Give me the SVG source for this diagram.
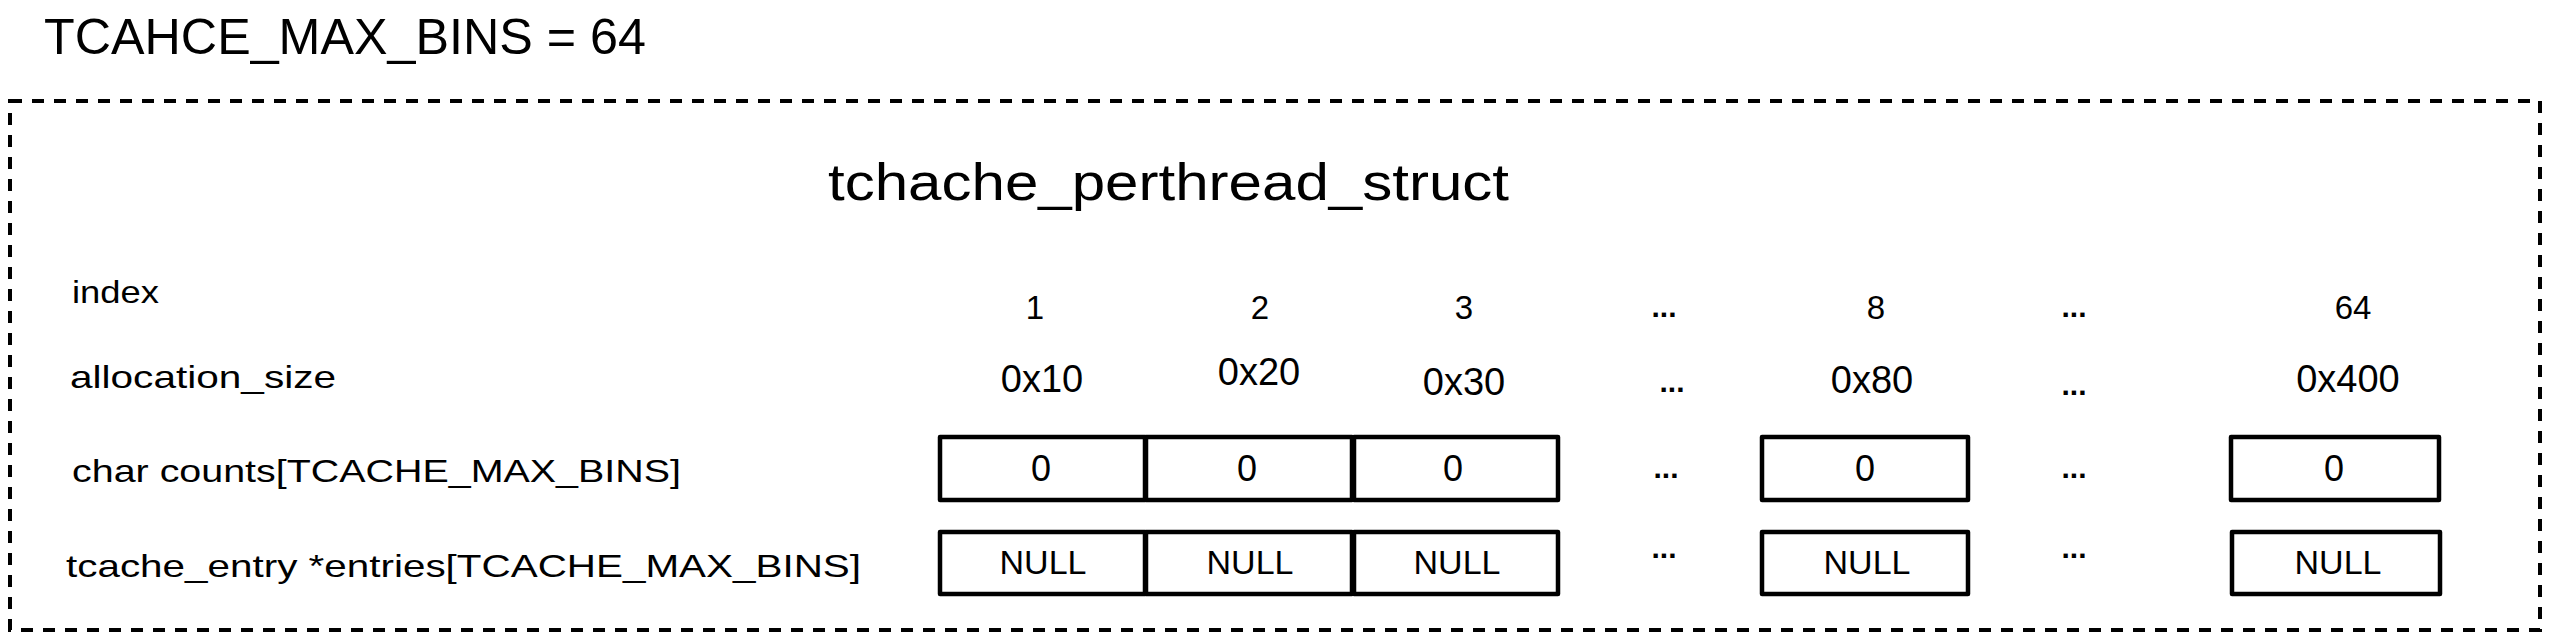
<svg xmlns="http://www.w3.org/2000/svg" width="2550" height="644" viewBox="0 0 2550 644">
<style>
text{font-family:"Liberation Sans",Arial,sans-serif;fill:#000}
.lbl{font-size:32px}
.idx{font-size:33px;text-anchor:middle}
.sz{font-size:38px;text-anchor:middle}
.cnt{font-size:36px;text-anchor:middle}
.nul{font-size:34px;text-anchor:middle}
.dots{font-size:30px;text-anchor:middle;font-weight:bold}
.box{fill:none;stroke:#000;stroke-width:4.5;stroke-linejoin:round}
.dash{fill:none;stroke:#000;stroke-width:4;stroke-dasharray:12 10}
</style>
<rect width="2550" height="644" fill="#fff"/>
<g id="title"><text x="44" y="54" font-size="50" textLength="602" lengthAdjust="spacingAndGlyphs">TCAHCE_MAX_BINS = 64</text></g>
<g id="struct">
<rect class="dash" x="10" y="101" width="2530" height="529"/>
<text x="828" y="200" font-size="52" textLength="681" lengthAdjust="spacingAndGlyphs">tchache_perthread_struct</text>
</g>
<g id="row-labels">
<text class="lbl" x="72" y="303" textLength="87" lengthAdjust="spacingAndGlyphs">index</text>
<text class="lbl" x="70" y="388" textLength="266" lengthAdjust="spacingAndGlyphs">allocation_size</text>
<text class="lbl" x="72" y="482" textLength="609" lengthAdjust="spacingAndGlyphs">char counts[TCACHE_MAX_BINS]</text>
<text class="lbl" x="66" y="577" textLength="795" lengthAdjust="spacingAndGlyphs">tcache_entry *entries[TCACHE_MAX_BINS]</text>
</g>
<g id="index-row">
<text class="idx" x="1035" y="319">1</text>
<text class="idx" x="1260" y="319">2</text>
<text class="idx" x="1464" y="319">3</text>
<text class="dots" x="1664" y="317">...</text>
<text class="idx" x="1876" y="319">8</text>
<text class="dots" x="2074" y="317">...</text>
<text class="idx" x="2353" y="319">64</text>
</g>
<g id="size-row">
<text class="sz" x="1042" y="392">0x10</text>
<text class="sz" x="1259" y="385">0x20</text>
<text class="sz" x="1464" y="395">0x30</text>
<text class="dots" x="1672" y="392">...</text>
<text class="sz" x="1872" y="393">0x80</text>
<text class="dots" x="2074" y="395">...</text>
<text class="sz" x="2348" y="392">0x400</text>
</g>
<g id="counts-row">
<g id="count-1"><rect class="box" x="940" y="437" width="205" height="63"/><text class="cnt" x="1041" y="481">0</text></g>
<g id="count-2"><rect class="box" x="1146" y="437" width="206" height="63"/><text class="cnt" x="1247" y="481">0</text></g>
<g id="count-3"><rect class="box" x="1354" y="437" width="204" height="63"/><text class="cnt" x="1453" y="481">0</text></g>
<text class="dots" x="1666" y="478">...</text>
<g id="count-8"><rect class="box" x="1762" y="437" width="206" height="63"/><text class="cnt" x="1865" y="481">0</text></g>
<text class="dots" x="2074" y="478">...</text>
<g id="count-64"><rect class="box" x="2231" y="437" width="208" height="63"/><text class="cnt" x="2334" y="481">0</text></g>
</g>
<g id="entries-row">
<g id="entry-1"><rect class="box" x="940" y="532" width="205" height="62"/><text class="nul" x="1043" y="574">NULL</text></g>
<g id="entry-2"><rect class="box" x="1146" y="532" width="206" height="62"/><text class="nul" x="1250" y="574">NULL</text></g>
<g id="entry-3"><rect class="box" x="1354" y="532" width="204" height="62"/><text class="nul" x="1457" y="574">NULL</text></g>
<text class="dots" x="1664" y="558">...</text>
<g id="entry-8"><rect class="box" x="1762" y="532" width="206" height="62"/><text class="nul" x="1867" y="574">NULL</text></g>
<text class="dots" x="2074" y="558">...</text>
<g id="entry-64"><rect class="box" x="2232" y="532" width="208" height="62"/><text class="nul" x="2338" y="574">NULL</text></g>
</g>
<g id="connectors"></g>
</svg>
